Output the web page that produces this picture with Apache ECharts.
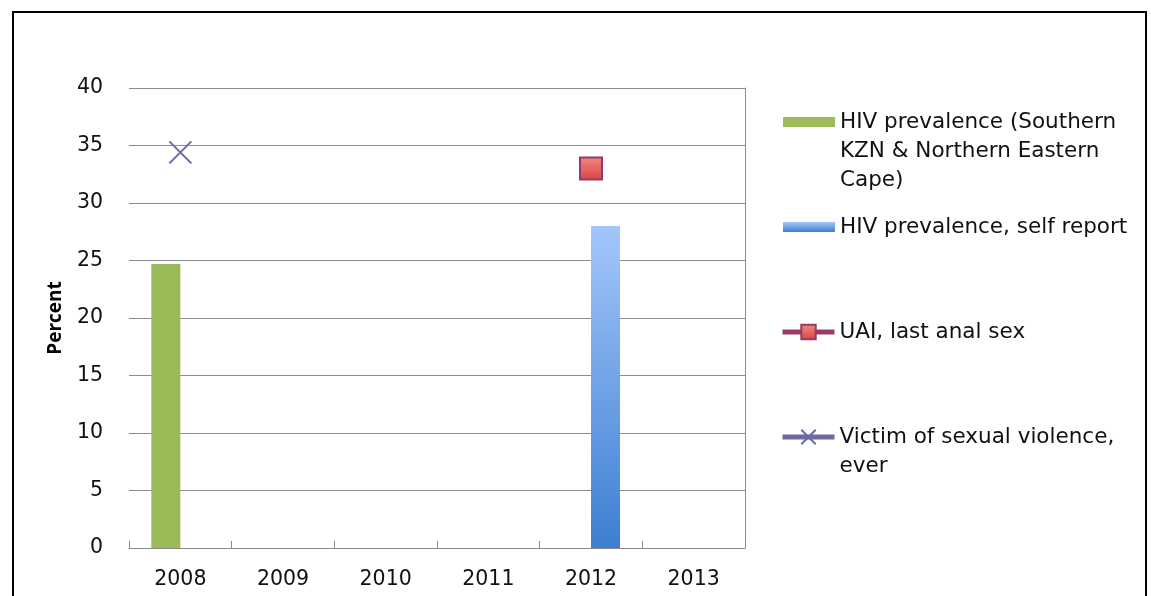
<!DOCTYPE html>
<html>
<head>
<meta charset="utf-8">
<script src="https://cdn.jsdelivr.net/npm/echarts@6/dist/echarts.min.js"></script>
<style>
    html, body { margin: 0; padding: 0; background: #fff; }
    #chart { width: 1151px; height: 596px; }
</style>
</head>
<body>
<div id="chart"></div>
<script>
const years = ['2008', '2009', '2010', '2011', '2012', '2013'];
const hivRegion = [24.7, '-', '-', '-', '-', '-'];
const hivSelfReport = ['-', '-', '-', '-', 28, '-'];
const uaiLastSex = ['-', '-', '-', '-', 33, '-'];
const sexualViolence = [34.4, '-', '-', '-', '-', '-'];
const yTicks = [0, 5, 10, 15, 20, 25, 30, 35, 40];

const names = [
    'HIV prevalence (Southern KZN & Northern Eastern Cape)',
    'HIV prevalence, self report',
    'UAI, last anal sex',
    'Victim of sexual violence, ever'
];
// legend icon sits in the middle of the text block, so blank lines on top
// keep the icon level with the first line, like the original
const wrapped = {};
wrapped[names[0]] = '\n\nHIV prevalence (Southern\nKZN & Northern Eastern\nCape)';
wrapped[names[1]] = names[1];
wrapped[names[2]] = names[2];
wrapped[names[3]] = '\nVictim of sexual violence,\never';

const font = '"DejaVu Sans", sans-serif';

function makeLegend(name, left, top, itemHeight, icon) {
    let legend = {
        left: left,
        top: top,
        padding: 0,
        orient: 'vertical',
        data: [name],
        itemWidth: 52,
        itemHeight: itemHeight,
        itemGap: 0,
        selectedMode: false,
        formatter: n => wrapped[n],
        lineStyle: { width: 5 },
        textStyle: {
            fontFamily: font,
            fontSize: 21.5,
            lineHeight: 29,
            color: '#111'
        }
    };
    if (icon) {
        legend.icon = icon;
    }
    return legend;
}

const chart = echarts.init(document.getElementById('chart'));

chart.setOption({
    backgroundColor: '#fff',
    animation: false,
    graphic: [{
        type: 'rect',
        shape: { x: 13, y: 12, width: 1133, height: 620 },
        style: { fill: 'none', stroke: '#000', lineWidth: 2 },
        silent: true
    }],
    legend: [
        makeLegend(names[0], 783, 49.5, 10, 'rect'),
        makeLegend(names[1], 783, 212.5, 10, 'rect'),
        makeLegend(names[2], 780, 317.5, 18),
        makeLegend(names[3], 780, 393.5, 18)
    ],
    grid: { left: 129, right: 406, top: 88, bottom: 48 },
    xAxis: {
        type: 'category',
        data: years,
        boundaryGap: true,
        axisLine: { lineStyle: { color: '#8a8a8a', width: 1 } },
        axisTick: { show: true, inside: true, length: 7, lineStyle: { color: '#8a8a8a' } },
        axisLabel: { fontFamily: font, fontSize: 20.5, color: '#111', margin: 21 }
    },
    yAxis: [{
        type: 'value',
        min: yTicks[0],
        max: yTicks[yTicks.length - 1],
        interval: 5,
        name: 'Percent',
        nameLocation: 'middle',
        nameGap: 64,
        nameTextStyle: { fontFamily: '"Open Sans", sans-serif', fontSize: 19, fontWeight: 'bold', color: '#000' },
        axisLine: { show: false },
        axisTick: { show: false },
        axisLabel: { fontFamily: font, fontSize: 20.5, color: '#111', margin: 26, padding: [6, 0, 0, 0] },
        splitLine: { lineStyle: { color: '#8c8c8c', width: 1 } }
    }, {
        type: 'value',
        position: 'right',
        min: 0,
        max: 40,
        interval: 5,
        axisLine: { show: true, lineStyle: { color: '#8c8c8c', width: 1 } },
        axisTick: { show: false },
        axisLabel: { show: false },
        splitLine: { show: false }
    }],
    series: [{
        name: names[0],
        type: 'bar',
        data: hivRegion,
        barWidth: 29,
        barGap: '0%',
        itemStyle: { color: '#9bbb59' }
    }, {
        name: names[1],
        type: 'bar',
        data: hivSelfReport,
        barWidth: 29,
        barGap: '0%',
        itemStyle: {
            color: new echarts.graphic.LinearGradient(0, 0, 0, 1, [
                { offset: 0, color: '#a3c6fb' },
                { offset: 1, color: '#3d7fd2' }
            ])
        }
    }, {
        name: names[2],
        type: 'line',
        data: uaiLastSex,
        symbol: 'rect',
        symbolSize: 22,
        lineStyle: { color: '#9a3a6a', width: 5 },
        itemStyle: {
            color: new echarts.graphic.LinearGradient(0, 0, 0, 1, [
                { offset: 0, color: '#f08a84' },
                { offset: 1, color: '#d6463e' }
            ]),
            borderColor: '#98386a',
            borderWidth: 2
        }
    }, {
        name: names[3],
        type: 'line',
        data: sexualViolence,
        symbol: 'path://M0,0L10,10M10,0L0,10',
        symbolSize: 22,
        lineStyle: { color: '#6c69a3', width: 5 },
        itemStyle: {
            color: 'transparent',
            borderColor: '#6c69a8',
            borderWidth: 2
        }
    }]
});
</script>
</body>
</html>
